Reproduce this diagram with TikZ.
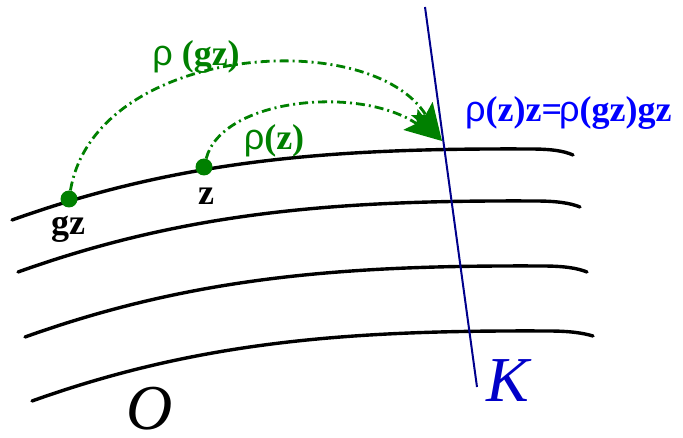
\documentclass[tikz,border=0pt]{standalone}
\usepackage{fontspec}
\setmainfont{Liberation Serif}
\newfontfamily\rhofont{Liberation Sans}
\usepackage{tikz}
\usetikzlibrary{positioning,arrows.meta}
\definecolor{orbgreen}{RGB}{0,128,0}
\definecolor{kline}{RGB}{0,0,140}
\definecolor{kblue}{RGB}{0,0,200}
\definecolor{eqblue}{RGB}{0,0,255}
\newcommand{\rhosym}{{\rhofont\mdseries ρ}}
\tikzset{
  orbit/.style={line width=3.4pt, line cap=round},
  slice/.style={line width=2pt, kline},
  pt/.style={circle, fill=orbgreen, minimum size=17pt, inner sep=0pt},
  act/.style={-{Stealth[length=38pt, width=25pt, inset=7pt]}, orbgreen, line width=2.8pt,
              dash pattern=on 9pt off 4pt on 2pt off 4pt},
  ptlbl/.style={font=\fontsize{36}{40}\selectfont\bfseries, anchor=base, inner sep=0pt},
  actlbl/.style={ptlbl, text=orbgreen},
  eqlbl/.style={ptlbl, text=eqblue, anchor=base west},
  biglbl/.style={font=\fontsize{64}{70}\selectfont\itshape, anchor=base, inner sep=0pt}
}

\begin{document}
\begin{tikzpicture}[x=1pt, y=-1pt]
\useasboundingbox (0,0) rectangle (683,438);
\draw[orbit] (12,220) .. controls (180,160) and (330,148) .. (530,149) .. controls (552,149) and (564,151) .. (573,155);
\draw[orbit] (18,272) .. controls (186,212) and (336,200) .. (535,201) .. controls (557,201) and (570,203) .. (580,207);
\draw[orbit] (25,337) .. controls (193,277) and (343,265) .. (542,266) .. controls (564,266) and (577,268) .. (587,272);
\draw[orbit] (32,401) .. controls (200,341) and (350,330) .. (548,331) .. controls (570,331) and (583,333) .. (593,336);
\coordinate (ktop) at (425,7);
\coordinate (kbot) at (477,387);
\coordinate (p) at (442,141);
\draw[slice] (ktop) -- (kbot);
\node[pt] (gz) at (69,199) {};
\node[pt] (z) at (204,167) {};
\draw[act] (gz) .. controls (95,45) and (370,25) .. (p);
\draw[act] (z) .. controls (222,98) and (360,85) .. (p);
\node[ptlbl] (gzl) at (68,235) {gz};
\node[ptlbl] (zl) at (206,205) {z};
\node[actlbl] (rgz) at (196,66) {\rhosym\ (gz)};
\node[actlbl] (rz) at (274,150) {\rhosym(z)};
\node[eqlbl] (eq) at (465,122) {\rhosym(z)z=\kern-3pt\rhosym(gz)gz};
\node[biglbl, text=kblue] (k) at (508,401) {K};
\node[biglbl] (o) at (150,429) {O};
\end{tikzpicture}
\end{document}
